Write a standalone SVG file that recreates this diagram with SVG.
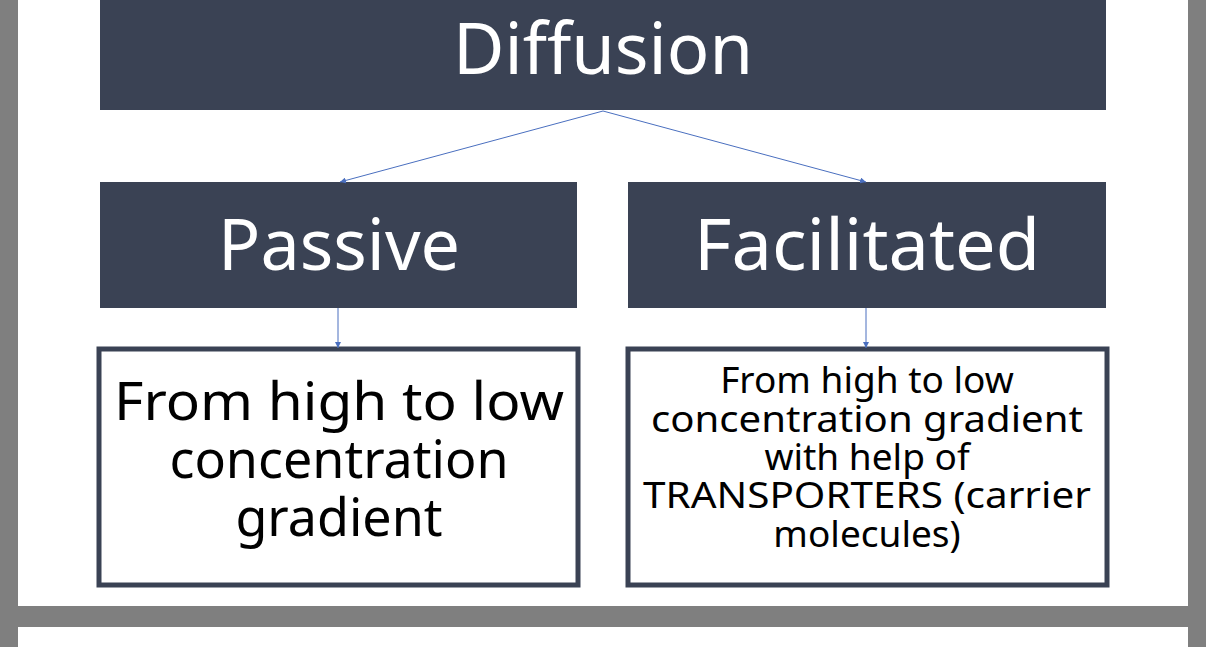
<svg xmlns="http://www.w3.org/2000/svg" width="1206" height="647" viewBox="0 0 1206 647">
<style>
.dark{fill:#3a4254}
.wt{fill:#fff;font-family:"Noto Sans","Liberation Sans",sans-serif;text-anchor:middle}
.bt{fill:#000;font-family:"Noto Sans","Liberation Sans",sans-serif;text-anchor:middle}
.box{fill:#fff;stroke:#3a4254;stroke-width:5}
.con{stroke:#4a6fbf;stroke-width:1;fill:none;marker-end:url(#ah)}
</style>
<defs><marker id="ah" viewBox="0 0 10 10" refX="10" refY="5" markerWidth="6" markerHeight="6" orient="auto"><path d="M0,0L10,5L0,10z" fill="#4a6fbf"/></marker></defs>
<rect width="1206" height="647" fill="#7f7f7f"/>
<rect x="18" y="0" width="1170" height="606" fill="#fff"/>
<rect x="18" y="627" width="1170" height="20" fill="#fff"/>
<g id="diffusion"><rect class="dark" x="100" y="0" width="1006" height="110"/><text class="wt" x="603" y="74" font-size="72" textLength="300" lengthAdjust="spacingAndGlyphs">Diffusion</text></g>
<g id="passive"><rect class="dark" x="100" y="182" width="477" height="126"/><text class="wt" x="339" y="270" font-size="72" textLength="242" lengthAdjust="spacingAndGlyphs">Passive</text></g>
<g id="facilitated"><rect class="dark" x="628" y="182" width="478" height="126"/><text class="wt" x="867" y="270" font-size="72" textLength="346" lengthAdjust="spacingAndGlyphs">Facilitated</text></g>
<g id="passive-desc"><rect class="box" x="99" y="349" width="479" height="236"/>
<text class="bt" font-size="52" x="339"><tspan x="339" y="420" textLength="450" lengthAdjust="spacingAndGlyphs">From high to low</tspan><tspan x="339" y="478">concentration</tspan><tspan x="339" y="536">gradient</tspan></text></g>
<g id="facilitated-desc"><rect class="box" x="628" y="349" width="479" height="236"/>
<text class="bt" font-size="37" x="867"><tspan x="867" y="393">From high to low</tspan><tspan x="867" y="432" textLength="432" lengthAdjust="spacingAndGlyphs">concentration gradient</tspan><tspan x="867" y="470">with help of</tspan><tspan x="867" y="508" textLength="448" lengthAdjust="spacingAndGlyphs">TRANSPORTERS (carrier</tspan><tspan x="867" y="547">molecules)</tspan></text></g>
<g id="connectors">
<line class="con" x1="603" y1="111" x2="340" y2="182"/>
<line class="con" x1="603" y1="111" x2="866" y2="182"/>
<line class="con" x1="338" y1="308" x2="338" y2="348"/>
<line class="con" x1="866" y1="308" x2="866" y2="348"/>
</g>
</svg>
